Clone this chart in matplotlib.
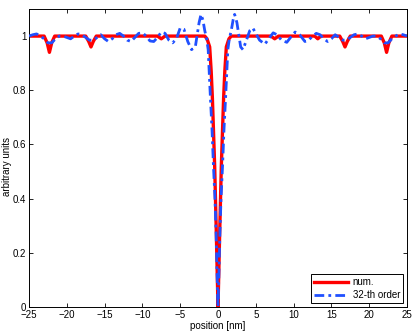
import matplotlib
matplotlib.use("Agg")
import matplotlib.pyplot as plt

# ---- data ----
x_num = [-25, -23.0, -22.6, -22.3, -22.0, -21.6, -17.5, -17.1, -16.8, -16.5, -16.1,
         -8.0, -7.5, -7.0, -1.75, -1.45, -1.1, -0.9, -0.74, -0.44, -0.22, -0.1, 0.0,
         0.1, 0.22, 0.44, 0.74, 0.9, 1.1, 1.45, 1.75, 7.0, 7.5, 8.0, 12.8, 13.2, 13.6,
         16.1, 16.5, 16.8, 17.1, 17.5, 21.6, 22.0, 22.3, 22.6, 23.0, 25]
y_num = [1.0, 1.0, 0.975, 0.94, 0.975, 1.0, 1.0, 0.98, 0.96, 0.98, 1.0,
         1.0, 0.99, 1.0, 1.0, 0.99, 0.96, 0.87, 0.77, 0.52, 0.27, 0.12, 0.0,
         0.12, 0.27, 0.52, 0.77, 0.87, 0.96, 0.99, 1.0, 1.0, 0.99, 1.0, 1.0, 0.99, 1.0,
         1.0, 0.98, 0.96, 0.98, 1.0, 1.0, 0.975, 0.94, 0.975, 1.0, 1.0]

x_ser = [-25, -24.5, -24, -23.5, -23, -22.5, -22, -21.5, -21, -20.5, -20, -19.5, -19,
         -18.5, -18, -17.5, -17, -16.5, -16, -15.5, -15, -14.5, -14, -13.5, -13, -12.5,
         -12, -11.5, -11, -10.5, -10, -9.5, -9, -8.5, -8, -7.5, -7, -6.5, -6, -5.5, -5,
         -4.5, -4, -3.5, -3, -2.5, -2.25, -2.0, -1.75, -1.5, -1.3, -1.0, -0.8, -0.6,
         -0.4, -0.25, -0.1, 0.0,
         0.1, 0.25, 0.4, 0.6, 0.8, 1.0, 1.3, 1.5, 1.75, 2.0, 2.2, 2.5, 3.0, 3.3, 3.7,
         4.2, 4.6, 5.0, 5.5, 6.2, 6.7, 7.3, 7.8, 8.4, 9.1, 9.6, 10.2, 10.8, 11.5, 12.0,
         12.5, 13.0, 13.5, 14.0, 14.5, 15.0, 15.5, 16.0, 16.5, 17.0, 17.5, 18.0, 18.5,
         19.0, 19.5, 20.0, 20.5, 21.0, 21.5, 22.0, 22.5, 23.0, 23.5, 24.0, 24.5, 25.0]
y_ser = [1.0, 1.005, 1.008, 1.0, 0.99, 0.975, 0.975, 0.99, 1.0, 1.0, 0.995, 0.99, 1.0,
         1.008, 1.005, 0.995, 0.985, 0.985, 0.995, 1.005, 0.99, 0.98, 0.99, 1.005, 1.01, 1.0,
         0.985, 0.98, 0.995, 1.01, 1.012, 1.0, 0.982, 0.98, 0.995, 1.015, 1.01, 0.985, 0.975,
         0.99, 1.03, 1.025, 0.98, 0.95, 0.96, 1.05, 1.08, 1.06, 1.02, 0.99, 0.95, 0.77, 0.66,
         0.52, 0.40, 0.27, 0.10, 0.0,
         0.10, 0.27, 0.40, 0.52, 0.66, 0.77, 0.95, 0.99, 1.02, 1.06, 1.08, 1.05, 0.96, 0.95,
         0.98, 1.02, 1.03, 1.01, 0.985, 0.97, 0.99, 1.012, 1.005, 0.985, 0.977, 0.995, 1.015,
         1.005, 0.98, 0.985, 1.0, 1.01, 1.005, 0.99, 0.98, 0.99, 1.005, 0.995, 0.985, 0.985,
         0.995, 1.005, 1.008, 1.0, 0.99, 0.995, 1.0, 1.0, 0.99, 0.975, 0.975, 0.99, 1.0,
         1.008, 1.005, 1.0]

x_ticks = [-25, -20, -15, -10, -5, 0, 5, 10, 15, 20, 25]
y_ticks = [0, 0.2, 0.4, 0.6, 0.8, 1]
y_ticklabels = ["0", "0.2", "0.4", "0.6", "0.8", "1"]

plt.rcParams['font.family'] = ['Liberation Sans', 'DejaVu Sans']

fig = plt.figure(figsize=(4.15, 3.32), dpi=100)
ax = fig.add_axes([0.0699, 0.0753, 0.9108, 0.8976])

ax.plot(x_num, y_num, color='#ff0000', linewidth=2.4, label='num.', zorder=2)
ax.plot(x_ser, y_ser, color='#2050ff', linewidth=2.0, linestyle=(0, (3.5, 1.5, 1, 1.5)),
        label='32-th order', zorder=3)

ax.set_xlim(-25, 25)
ax.set_ylim(0, 1.1)
ax.set_xticks(x_ticks)
ax.set_yticks(y_ticks)
ax.set_yticklabels(y_ticklabels)
ax.tick_params(direction='in', top=True, right=True, labelsize=7, length=3,
               width=0.6, pad=2)
for s in ax.spines.values():
    s.set_linewidth(0.7)

ax.set_xlabel('position [nm]', fontsize=7, labelpad=1)
ax.set_ylabel('arbitrary units', fontsize=7)
ax.yaxis.set_label_coords(-0.045, 0.47)

leg = ax.legend(loc='lower right', fontsize=7, frameon=True, fancybox=False,
                edgecolor='black', framealpha=1, handlelength=3.5,
                borderpad=0.3, labelspacing=0.3, handletextpad=0.5,
                borderaxespad=0.4)
leg.get_frame().set_linewidth(0.7)

fig.savefig('out.png', dpi=100)
